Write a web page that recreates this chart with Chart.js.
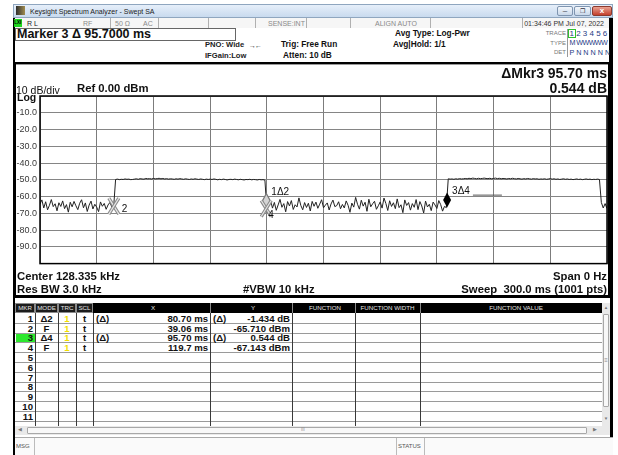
<!DOCTYPE html>
<html>
<head>
<meta charset="utf-8">
<script src="https://cdn.jsdelivr.net/npm/chart.js"></script>
<style>
html, body { margin: 0; padding: 0; }
body { width: 618px; height: 455px; position: relative; overflow: hidden; background: #fff; font-family: "Liberation Sans", Arial, sans-serif; }
.a { position: absolute; white-space: pre; box-sizing: border-box; }
</style>
</head>
<body>
<script>
// sweep: 0..300 ms, one sample per ms
const sweepTimeMs = 300;
const levelsDbm = [
  -64.5,-62.0,-66.8,-63.1,-67.9,-65.2,-61.8,-66.0,-64.3,-68.5,
  -63.7,-65.9,-62.6,-67.2,-64.8,-69.3,-63.4,-66.1,-62.9,-65.5,
  -67.8,-64.0,-61.9,-66.7,-63.8,-68.9,-65.1,-62.7,-67.4,-64.6,
  -66.3,-69.0,-63.2,-65.8,-64.1,-67.6,-65.0,-63.5,-66.2,-65.7,
  // burst 1
  -49.8,-49.6,-49.9,-49.7,-49.8,-49.5,-49.7,-49.6,-49.9,-49.8,
  -49.6,-49.4,-49.7,-49.3,-49.5,-49.6,-49.2,-49.4,-49.3,-49.5,
  -49.2,-49.4,-49.3,-49.1,-49.4,-49.2,-49.5,-49.3,-49.6,-49.4,
  -49.5,-49.7,-49.4,-49.6,-49.3,-49.5,-49.7,-49.4,-49.6,-49.8,
  -49.5,-49.7,-49.4,-49.6,-49.8,-49.5,-49.7,-49.9,-49.6,-49.8,
  -49.6,-49.8,-49.5,-49.7,-50.0,-49.7,-49.9,-49.6,-49.8,-50.1,
  -49.8,-49.7,-49.9,-49.6,-49.8,-50.0,-49.7,-49.9,-50.1,-49.8,
  -49.9,-49.7,-50.0,-49.8,-49.9,-50.1,-49.8,-50.0,-49.9,-50.2,
  // off
  -67.1,-64.8,-62.3,-66.9,-63.5,-68.2,-65.0,-61.7,-66.4,-64.2,
  -69.1,-63.0,-65.6,-62.4,-67.7,-64.9,-66.2,-60.8,-65.3,-67.9,
  -63.6,-66.5,-64.0,-68.6,-62.9,-65.8,-63.3,-67.0,-64.5,-61.9,
  -66.7,-65.1,-63.8,-68.0,-64.4,-62.1,-66.0,-65.4,-63.1,-67.3,
  -64.7,-66.8,-62.6,-65.2,-69.4,-63.9,-66.3,-60.5,-64.6,-67.5,
  -62.2,-65.7,-63.4,-68.8,-61.6,-66.1,-64.3,-62.8,-67.6,-65.5,
  -63.2,-66.9,-60.9,-64.1,-68.3,-62.5,-65.9,-63.7,-67.2,-61.4,
  -66.6,-64.9,-69.6,-62.0,-65.3,-63.6,-68.1,-64.2,-66.4,-61.8,
  -67.8,-63.0,-65.6,-69.8,-62.7,-66.2,-64.6,-68.4,-63.3,-65.0,
  -67.1,-62.4,-64.8,-68.7,-65.9,-66.6,
  // burst 2
  -49.4,-49.6,-49.5,-49.7,-49.4,-49.6,-49.3,-49.5,-49.4,-49.2,
  -49.4,-49.1,-49.3,-49.0,-49.2,-49.4,-49.1,-49.3,-49.2,-49.0,
  -49.2,-49.3,-49.1,-49.4,-49.2,-49.0,-49.3,-49.1,-49.4,-49.2,
  -49.3,-49.5,-49.2,-49.4,-49.1,-49.3,-49.5,-49.2,-49.4,-49.6,
  -49.3,-49.5,-49.2,-49.4,-49.6,-49.3,-49.5,-49.4,-49.7,-49.5,
  -49.6,-49.4,-49.7,-49.5,-49.3,-49.6,-49.4,-49.7,-49.5,-49.8,
  -49.6,-49.4,-49.7,-49.5,-49.8,-49.6,-49.9,-49.7,-49.5,-49.8,
  -49.6,-49.9,-49.7,-49.5,-49.8,-49.6,-49.9,-49.7,-49.8,-49.6,
  -49.8,
  -63.5,-66.8,-64.2,-67.1
];
const timesMs = levelsDbm.map((v, i) => i * sweepTimeMs / (levelsDbm.length - 1));

const yTicks = [0, -10, -20, -30, -40, -50, -60, -70, -80, -90, -100];

// markers
const markerNums = [1, 2, 3, 4];
const markerRefs = [2, null, 4, null];   // delta to marker n, null = fixed
const markerTimesMs = [119.76, 39.06, 215.4, 119.7];
const markerLevelsDbm = [-67.144, -65.710, -66.599, -67.143];
const activeMarker = 3;
const tableRows = 11;

function box(x, y, w, h, css) {
  const d = document.createElement('div');
  d.className = 'a';
  d.style.cssText += `left:${x}px;top:${y}px;width:${w}px;height:${h}px;` + (css || '');
  document.body.appendChild(d);
  return d;
}
function tx(s, x, y, size, css, align) {
  const d = document.createElement('div');
  d.className = 'a';
  d.textContent = s;
  let pos = align === 'right' ? `right:${618 - x}px;` : `left:${x}px;`;
  if (align === 'center') pos += 'transform:translateX(-50%);';
  d.style.cssText += pos + `top:${y - size / 2}px;font-size:${size}px;line-height:${size}px;` + (css || '');
  document.body.appendChild(d);
  return d;
}

// window chrome
box(13, 4, 600, 14, 'background:linear-gradient(#e6effa,#c8daee);border:1px solid #8fa6bf;');
box(16, 6, 9, 9, 'background:linear-gradient(90deg,#2e2e2e,#a08c50);');
tx('Keysight Spectrum Analyzer - Swept SA', 30, 11, 7, 'color:#1b1b1b;');
box(557, 6, 16, 10, 'background:linear-gradient(#f3f7fc,#c9d8ea);border:1px solid #7f95b0;border-radius:2px;');
box(574, 6, 17, 10, 'background:linear-gradient(#f3f7fc,#c9d8ea);border:1px solid #7f95b0;border-radius:2px;');
box(592, 6, 20, 10, 'background:linear-gradient(#e9a293,#c4402c);border:1px solid #8c3a2e;border-radius:2px;');
tx('\u2013', 565, 11, 8, 'color:#334;', 'center');
tx('\u2750', 582.5, 11, 6, 'color:#334;', 'center');
tx('x', 602, 10.5, 8, 'color:#fff;font-weight:bold;', 'center');
box(13, 18, 600, 437, 'background:#000;');

// status row
box(15, 18, 594, 10, 'background:#f6f6f6;');
box(14, 19, 8, 8, 'background:#1fd61f;');
tx('LXI', 14.3, 23, 4.5, 'color:#000;font-weight:bold;');
[110, 158, 208, 255, 306, 350, 430, 522].forEach(x => box(x, 18, 1, 10, 'background:#b0b0b0;'));
tx('R L', 27, 23, 7, 'color:#222;');
tx('RF', 83, 23, 7, 'color:#8a8a8a;');
tx('50 \u03A9', 115, 23, 7, 'color:#8a8a8a;');
tx('AC', 143, 23, 7, 'color:#8a8a8a;');
tx('SENSE:INT', 268, 23, 7, 'color:#8a8a8a;');
tx('ALIGN AUTO', 375, 23, 7, 'color:#8a8a8a;');
tx('01:34:46 PM Jul 07, 2022', 604, 23, 7, 'color:#333;', 'right');

// settings area
box(15, 28, 594, 34, 'background:#fff;');
box(15, 28, 221, 13, 'border:1px solid #666;');
const m3 = markerNums.indexOf(activeMarker);
const m3ref = markerNums.indexOf(markerRefs[m3]);
const dT = markerTimesMs[m3] - markerTimesMs[m3ref];
const dL = markerLevelsDbm[m3] - markerLevelsDbm[m3ref];
tx('Marker ' + activeMarker + ' \u0394 ' + dT.toFixed(4) + ' ms', 17, 34.5, 12.5, 'font-weight:bold;color:#111;');
tx('PNO: Wide', 205, 45, 7.6, 'font-weight:bold;color:#222;');
tx('IFGain:Low', 205, 56, 7.6, 'font-weight:bold;color:#222;');
tx('\u2192\u2190', 249, 45, 7, 'color:#333;letter-spacing:-1px;');
tx('Trig: Free Run', 281, 44, 8.3, 'font-weight:bold;color:#111;');
tx('Atten: 10 dB', 283, 55, 8.3, 'font-weight:bold;color:#111;');
tx('Avg Type: Log-Pwr', 395, 33, 8.3, 'font-weight:bold;color:#111;');
tx('Avg|Hold: 1/1', 393, 44, 8.3, 'font-weight:bold;color:#111;');
box(567, 29, 1, 28, 'background:#999;');
box(568, 29, 8, 9, 'border:1px solid #2fbf2f;');
tx('TRACE', 566, 33, 6, 'color:#777;', 'right');
tx('TYPE', 566, 43, 6, 'color:#777;', 'right');
tx('DET', 566, 52, 6, 'color:#777;', 'right');
tx('1 2 3 4 5 6', 569.5, 33.5, 8, 'color:#1e3a84;');
tx('M WWWWW', 569.5, 43, 7.2, 'color:#1e3a84;letter-spacing:-0.6px;');
tx('P N N N N N', 569.5, 52.5, 7.2, 'color:#1e3a84;');

// plot panel
box(16, 64, 592, 231, 'background:#fff;border-top:1px solid #999;');

// marker table panel
box(15, 298, 595, 139, 'background:#fff;');
box(15, 437, 598, 18, 'background:#fafafa;border-top:1px solid #aaa;');
tx('MSG', 16, 446, 6, 'color:#555;');
box(34, 438, 1, 17, 'background:#bbb;');
box(396, 438, 1, 17, 'background:#bbb;');
box(424, 438, 1, 17, 'background:#bbb;');
tx('STATUS', 398, 446, 6, 'color:#555;');

box(15, 303, 587, 10, 'background:#000;');
[[15, 20], [35, 23], [58, 18], [76, 17]].forEach(([x, w]) => box(x, 303, w, 10, 'background:#1c1c1c;border:1px solid #8a8a8a;'));
[210, 292, 355, 420].forEach(x => box(x, 303, 1, 10, 'background:#8a8a8a;'));
const headers = [['MKR', 25], ['MODE', 46.5], ['TRC', 67], ['SCL', 84.5], ['X', 153], ['Y', 253], ['FUNCTION', 325], ['FUNCTION WIDTH', 387.5], ['FUNCTION VALUE', 516]];
headers.forEach(([s, x]) => tx(s, x, 308.3, 6.2, 'color:#e4e4e4;', 'center'));

const rowH = 9.8, row0 = 313;
for (let k = 1; k <= tableRows; k++) box(15, row0 + k * rowH, 587, 1, 'background:#9a9a9a;');
[35, 58, 76, 93, 210, 292, 355, 420].forEach(x => box(x, row0, 1, 113, 'background:#3a3a3a;'));
box(16, row0 + m3 * rowH + 1, 19, rowH - 1, 'background:#2ee82e;');

const fmtT = t => t.toPrecision(4) + ' ms';
for (let k = 0; k < tableRows; k++) {
  const y = row0 + k * rowH + rowH / 2 + 0.6;
  const b = 'font-weight:bold;color:#111;';
  tx(String(k + 1), 33, y, 9.6, b, 'right');
  if (k >= markerNums.length) continue;
  const ref = markerRefs[k];
  tx(ref === null ? 'F' : '\u0394' + ref, 46.5, y, 9.6, b, 'center');
  tx('1', 67, y, 9.6, 'font-weight:bold;color:#f2e000;', 'center');
  tx('t', 84.5, y, 9.6, b, 'center');
  if (ref === null) {
    tx(fmtT(markerTimesMs[k]), 208, y, 9.6, b, 'right');
    tx(markerLevelsDbm[k].toFixed(3) + ' dBm', 290, y, 9.6, b, 'right');
  } else {
    const r = markerNums.indexOf(ref);
    tx('(\u0394)', 96, y, 9.6, b);
    tx('(\u0394)', 213, y, 9.6, b);
    tx(fmtT(markerTimesMs[k] - markerTimesMs[r]), 208, y, 9.6, b, 'right');
    tx((markerLevelsDbm[k] - markerLevelsDbm[r]).toFixed(3) + ' dB', 290, y, 9.6, b, 'right');
  }
}
// scrollbars
box(602, 303, 8, 123, 'background:#e9e9e9;');
tx('\u25B2', 606, 308.5, 4.5, 'color:#777;', 'center');
box(603, 314, 6, 93, 'background:#f8f8f8;border:1px solid #a8a8a8;border-radius:1px;');
tx('\u2261', 606, 360, 6, 'color:#888;', 'center');
tx('\u25BC', 606, 419, 4.5, 'color:#777;', 'center');
box(15, 426, 595, 9, 'background:#e9e9e9;');
box(27, 427, 560, 7, 'background:#f8f8f8;border:1px solid #a8a8a8;border-radius:1px;');
tx('\u25C0', 20, 430.5, 4.5, 'color:#777;', 'center');
tx('\u25B6', 595, 430.5, 4.5, 'color:#777;', 'center');
tx('III', 303, 430.5, 4.5, 'color:#888;', 'center');

// chart canvas
const cv = document.createElement('canvas');
cv.width = 594; cv.height = 210;
cv.className = 'a';
cv.style.left = '15px'; cv.style.top = '62px';
document.body.appendChild(cv);

// plot texts
tx('\u0394Mkr' + activeMarker + ' ' + dT.toPrecision(4) + ' ms', 607, 73, 14, 'font-weight:bold;color:#111;', 'right');
tx(dL.toFixed(3) + ' dB', 607, 88, 14, 'font-weight:bold;color:#111;', 'right');
tx('10 dB/div', 16, 89.8, 10.5, 'color:#111;');
tx('Ref 0.00 dBm', 77, 89, 11.3, 'font-weight:bold;color:#111;');
tx('Log', 17, 97.5, 10.5, 'font-weight:bold;color:#111;');
tx('Center 128.335 kHz', 17, 276.5, 11.3, 'font-weight:bold;color:#111;');
tx('Span 0 Hz', 607, 276.5, 11.3, 'font-weight:bold;color:#111;', 'right');
tx('Res BW 3.0 kHz', 17, 289.5, 11.3, 'font-weight:bold;color:#111;');
tx('#VBW 10 kHz', 243, 289.5, 11.3, 'font-weight:bold;color:#111;');
tx('Sweep  300.0 ms (1001 pts)', 607, 289.5, 11.3, 'font-weight:bold;color:#111;', 'right');

Chart.defaults.font.family = '"Liberation Sans", Arial, sans-serif';

const markerPlugin = {
  id: 'markers',
  afterDatasetsDraw(chart) {
    const c = chart.ctx, xs = chart.scales.x, ys = chart.scales.y;
    const a = chart.chartArea;
    c.save();
    c.strokeStyle = '#000';
    c.lineWidth = 1.5;
    c.strokeRect(a.left, a.top, a.right - a.left, a.bottom - a.top);
    c.font = '10px "Liberation Sans", Arial, sans-serif';
    c.textBaseline = 'middle';
    c.fillStyle = '#111';
    const pts = markerNums.map((n, i) => [xs.getPixelForValue(markerTimesMs[i]), ys.getPixelForValue(markerLevelsDbm[i])]);
    markerNums.forEach((n, i) => {
      const [px, py] = pts[i];
      const ref = markerRefs[i];
      if (ref === null) {
        [[-5, -8, 5, 8], [5, -8, -5, 8]].forEach(([x1, y1, x2, y2]) => {
          c.strokeStyle = '#8a8a8a'; c.lineWidth = 3.4;
          c.beginPath(); c.moveTo(px + x1, py + y1); c.lineTo(px + x2, py + y2); c.stroke();
          c.strokeStyle = '#e8e8e8'; c.lineWidth = 1.2;
          c.beginPath(); c.moveTo(px + x1, py + y1); c.lineTo(px + x2, py + y2); c.stroke();
        });
        // a delta marker sitting on top pushes the number below
        const crowded = markerNums.some((m, j) => j !== i && markerRefs[j] !== null && Math.abs(pts[j][0] - px) < 8);
        c.fillStyle = '#111';
        c.textAlign = 'left';
        if (crowded) c.fillText(String(n), px + 2, py + 7);
        else c.fillText(String(n), px + 8, py + 3);
      } else {
        c.beginPath();
        c.moveTo(px, py); c.lineTo(px + 4, py - 7.5); c.lineTo(px, py - 15); c.lineTo(px - 4, py - 7.5); c.closePath();
        if (n === activeMarker) {
          c.fillStyle = '#000'; c.fill();
        } else {
          c.fillStyle = '#d4d4d4'; c.fill();
          c.strokeStyle = '#7a7a7a'; c.lineWidth = 1.3; c.stroke();
        }
        const lbl = n + '\u0394' + ref;
        c.fillStyle = '#111';
        c.textAlign = 'left';
        c.fillText(lbl, px + 5, py - 16);
        if (n === activeMarker) {
          const w = c.measureText(lbl).width;
          c.strokeStyle = '#555'; c.lineWidth = 1;
          c.beginPath(); c.moveTo(px + 5 + w + 3, py - 12.5); c.lineTo(px + 5 + w + 32, py - 12.5); c.stroke();
        }
      }
    });
    c.restore();
  }
};

new Chart(cv.getContext('2d'), {
  type: 'line',
  data: {
    labels: timesMs,
    datasets: [{
      data: levelsDbm,
      borderColor: '#222',
      borderWidth: 1,
      pointRadius: 0,
      tension: 0
    }]
  },
  options: {
    responsive: false,
    animation: false,
    layout: { padding: { top: 34, right: 2, bottom: 4, left: 0 } },
    plugins: { legend: { display: false }, tooltip: { enabled: false } },
    scales: {
      x: {
        type: 'linear', min: 0, max: sweepTimeMs,
        ticks: { display: false, stepSize: sweepTimeMs / 10 },
        grid: { color: '#7c7c7c', drawTicks: false },
        border: { display: false },
        afterFit: s => { s.height = 0; }
      },
      y: {
        min: yTicks[yTicks.length - 1], max: yTicks[0],
        afterBuildTicks: s => { s.ticks = yTicks.map(v => ({ value: v })); },
        ticks: {
          padding: 3, color: '#3a3a3a', font: { size: 9 },
          callback: v => (v === yTicks[0] || v === yTicks[yTicks.length - 1]) ? '' : v.toFixed(1)
        },
        grid: { color: '#858585', drawTicks: false },
        border: { display: false },
        afterFit: s => { s.width = 25; }
      }
    }
  },
  plugins: [markerPlugin]
});
</script>
</body>
</html>
